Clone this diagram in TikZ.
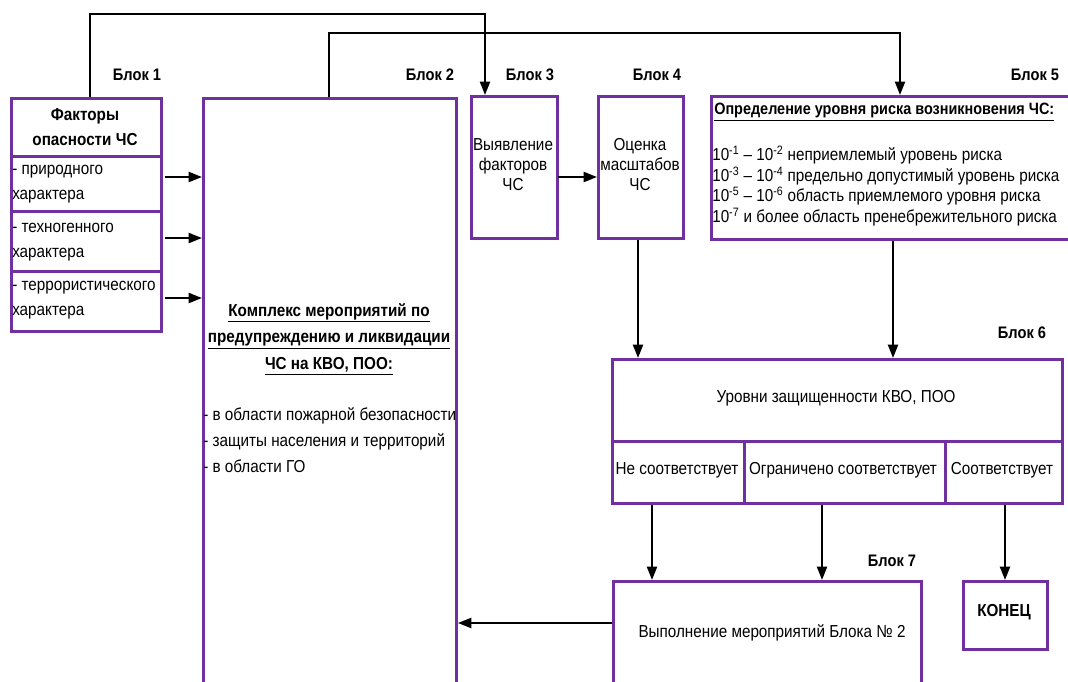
\documentclass[tikz,border=0pt]{standalone}
\usepackage{fontspec}
\setmainfont{Liberation Sans}[FakeStretch=0.88]
\usetikzlibrary{arrows.meta,calc}
\definecolor{vio}{HTML}{7030A0}
\begin{document}
\begin{tikzpicture}[x=0.75pt,y=-0.75pt,
  box/.style 2 args={draw=vio,line width=2.2pt,fill=white,inner sep=0pt,anchor=north west,minimum width=#1*0.75pt,minimum height=#2*0.75pt},
  conn/.style={draw=black,line width=1.5pt},
  arr/.style={conn,-{Triangle[length=10pt,width=7.5pt]}},
  lbl/.style={font=\fontsize{12.5}{14}\selectfont\bfseries,inner sep=0pt},
  txt/.style={font=\fontsize{13}{15}\selectfont,inner sep=0pt,align=center},
  ltxt/.style={inner sep=0pt,align=left,anchor=west}]
\useasboundingbox (0,0) rectangle (1068,682);
\clip (0,0) rectangle (1068,682);
% Block 1
\node[box={150}{58}] (b1) at (10,97) {};
\node[box={150}{55}] (b1a) at (10,155) {};
\node[box={150}{60}] (b1b) at (10,210) {};
\node[box={150}{60}] (b1c) at (10,270) {};
\node[txt,font=\fontsize{13}{18.75}\selectfont\bfseries] (b1t) at (85,127) {Факторы\\опасности ЧС};
\node[ltxt,font=\fontsize{13}{18.75}\selectfont] (b1at) at (12,184) {- природного\\характера};
\node[ltxt,font=\fontsize{13}{18.75}\selectfont] (b1bt) at (12,242) {- техногенного\\характера};
\node[ltxt,font=\fontsize{13}{18.75}\selectfont] (b1ct) at (12,300) {- террористического\\характера};
\node[lbl] (l1) at (137,75) {Блок 1};
% Block 2
\node[box={253}{600}] (b2) at (202,97) {};
\node[txt,font=\fontsize{13}{20}\selectfont\bfseries] (b2t) at (329,339) {\underline{Комплекс мероприятий по}\\\underline{предупреждению и ликвидации}\\\underline{ЧС на КВО, ПОО:}};
\node[ltxt,font=\fontsize{13}{19.5}\selectfont] (b2l) at (203,440) {- в области пожарной безопасности\\- защиты населения и территорий\\- в области ГО};
\node[lbl] (l2) at (430,75) {Блок 2};
% Block 3
\node[box={86}{142}] (b3) at (470,95) {};
\node[txt] (b3t) at (513,165) {Выявление\\факторов\\ЧС};
\node[lbl] (l3) at (530,75) {Блок 3};
% Block 4
\node[box={85}{142}] (b4) at (597,95) {};
\node[txt] (b4t) at (640,165) {Оценка\\масштабов\\ЧС};
\node[lbl] (l4) at (657,75) {Блок 4};
% Block 5
\node[box={380}{143}] (b5) at (710,95) {};
\node[ltxt,font=\fontsize{12.3}{15}\selectfont\bfseries] (b5t) at (714,112) {\underline{Определение уровня риска возникновения ЧС:}};
\node[ltxt,font=\fontsize{13}{15.4}\selectfont] (b5l) at (712,186) {10\textsuperscript{-1} – 10\textsuperscript{-2} неприемлемый уровень риска\\10\textsuperscript{-3} – 10\textsuperscript{-4} предельно допустимый уровень риска\\10\textsuperscript{-5} – 10\textsuperscript{-6} область приемлемого уровня риска\\10\textsuperscript{-7} и более область пренебрежительного риска};
\node[lbl] (l5) at (1035,75) {Блок 5};
% Block 6
\node[box={450}{82}] (b6) at (611,358) {};
\node[txt] (b6t) at (836,398) {Уровни защищенности КВО, ПОО};
\node[box={132}{62}] (c1) at (611,440) {};
\node[box={201}{62}] (c2) at (743,440) {};
\node[box={117}{62}] (c3) at (944,440) {};
\node[txt] (c1t) at (677,470) {Не соответствует};
\node[txt] (c2t) at (843,470) {Ограничено соответствует};
\node[txt] (c3t) at (1002,470) {Соответствует};
\node[lbl] (l6) at (1022,333) {Блок 6};
% Block 7
\node[box={308}{120}] (b7) at (612,580) {};
\node[txt] (b7t) at (772,633) {Выполнение мероприятий Блока № 2};
\node[lbl] (l7) at (892,561) {Блок 7};
% End
\node[box={84}{68}] (end) at (962,580) {};
\node[txt,font=\fontsize{13}{15}\selectfont\bfseries] (endt) at (1004,612) {КОНЕЦ};
% connectors
\coordinate (p1) at (90,14);
\coordinate (p2) at (485,14);
\coordinate (q1) at (329,33);
\coordinate (q2) at (900,33);
\draw[arr] (b1.north -| p1) -- (p1) -- (p2) -- (p2 |- b3.north);
\draw[arr] (b2.north -| q1) -- (q1) -- (q2) -- (q2 |- b5.north);
\foreach \y/\n in {177/a,238/b,298/c}{
  \coordinate (s\n) at (165,\y);
  \draw[arr] (s\n) -- (s\n -| b2.west);
}
\coordinate (s34) at (558,177);
\draw[arr] (s34) -- (s34 -| b4.west);
\coordinate (x4) at (638,0);
\coordinate (x5) at (893,0);
\draw[arr] (b4.south -| x4) -- (b6.north -| x4);
\draw[arr] (b5.south -| x5) -- (b6.north -| x5);
\coordinate (y1) at (652,0);
\coordinate (y2) at (822,0);
\coordinate (y3) at (1005,0);
\draw[arr] (c1.south -| y1) -- (b7.north -| y1);
\draw[arr] (c2.south -| y2) -- (b7.north -| y2);
\draw[arr] (c3.south -| y3) -- (end.north -| y3);
\coordinate (y7) at (0,623);
\draw[arr] (b7.west |- y7) -- (b2.east |- y7);
\end{tikzpicture}
\end{document}
